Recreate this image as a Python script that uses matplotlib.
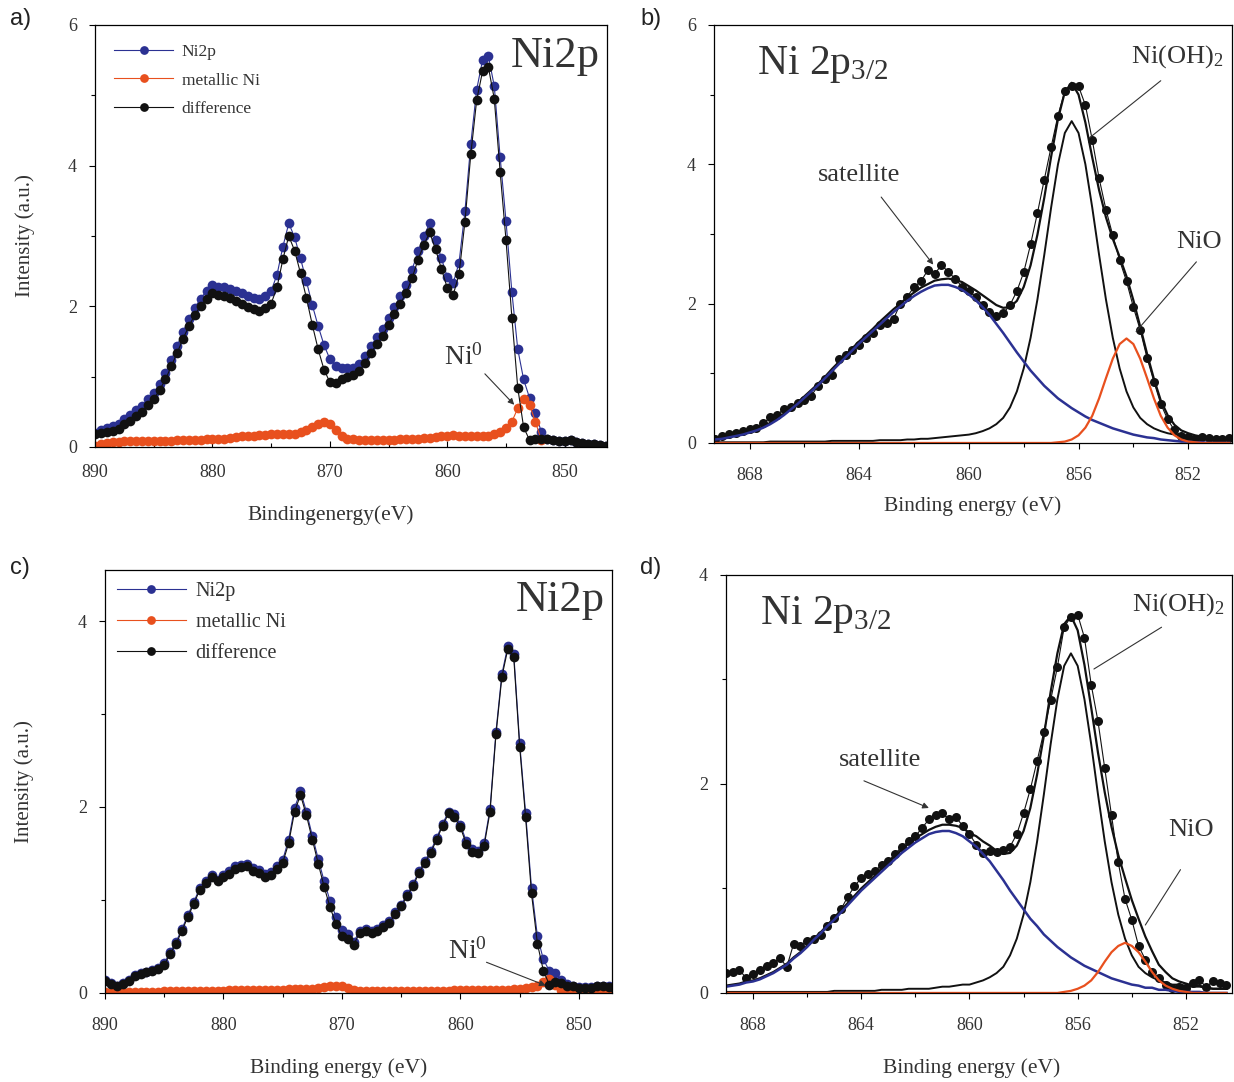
import numpy as np
import matplotlib.pyplot as plt
from matplotlib.ticker import MultipleLocator

plt.rcParams['font.family'] = ['Liberation Serif', 'DejaVu Serif']
plt.rcParams['mathtext.fontset'] = 'custom'
plt.rcParams['mathtext.rm'] = 'Liberation Serif'
plt.rcParams['mathtext.it'] = 'Liberation Serif:italic'

BLUE = '#2b3192'
ORANGE = '#e8501e'
BLACK = '#111111'
GREY = '#333333'

# ---------------- panel a: Ni2p survey, sample 1 (0.5 eV steps, 890 -> 846)
be_a = np.linspace(890.0, 846.0, 89)
ni2p_a = [0.20, 0.24, 0.27, 0.30, 0.33, 0.40, 0.45, 0.52, 0.58, 0.68,
          0.77, 0.90, 1.05, 1.24, 1.44, 1.64, 1.82, 1.98, 2.11, 2.22,
          2.30, 2.28, 2.27, 2.25, 2.22, 2.19, 2.15, 2.12, 2.10, 2.14,
          2.22, 2.45, 2.85, 3.18, 2.98, 2.68, 2.36, 2.02, 1.72, 1.45,
          1.25, 1.15, 1.12, 1.12, 1.13, 1.18, 1.30, 1.44, 1.56, 1.68,
          1.84, 1.99, 2.15, 2.30, 2.52, 2.78, 3.00, 3.18, 2.95, 2.68,
          2.42, 2.33, 2.62, 3.35, 4.31, 5.08, 5.50, 5.56, 5.13, 4.12,
          3.21, 2.20, 1.39, 0.96, 0.70, 0.48, 0.22, 0.12, 0.10, 0.09,
          0.08, 0.10, 0.07, 0.05, 0.04, 0.04, 0.03, 0.02, 0.02]
nan = np.nan
metal_a = [0.01, 0.04, 0.06, 0.07, 0.07, 0.08, 0.08, 0.08, 0.08, 0.08,
           0.09, 0.09, 0.09, 0.09, 0.10, 0.10, 0.10, 0.10, 0.10, 0.11,
           0.11, 0.12, 0.12, 0.13, 0.14, 0.15, 0.16, 0.16, 0.17, 0.17,
           0.18, 0.18, 0.18, 0.18, 0.19, 0.21, 0.24, 0.28, 0.33, 0.35,
           0.33, 0.24, 0.16, 0.12, 0.11, 0.10, 0.10, 0.10, 0.10, 0.10,
           0.10, 0.10, 0.11, 0.11, 0.12, 0.12, 0.13, 0.13, 0.14, 0.15,
           0.16, 0.17, 0.16, 0.15, 0.15, 0.15, 0.16, 0.16, 0.18, 0.21,
           0.27, 0.36, 0.55, 0.68, 0.60, 0.36, 0.10, nan, nan, nan,
           nan, nan, nan, nan, nan, nan, nan, nan, nan]

# ---------------- panel c: Ni2p survey, sample 2 (0.5 eV steps, 890 -> 847)
be_c = np.linspace(890.0, 847.0, 87)
ni2p_c = [0.14, 0.11, 0.08, 0.11, 0.14, 0.19, 0.21, 0.23, 0.25, 0.27,
          0.32, 0.44, 0.55, 0.69, 0.84, 0.98, 1.13, 1.20, 1.27, 1.22,
          1.27, 1.31, 1.36, 1.38, 1.39, 1.34, 1.32, 1.28, 1.30, 1.36,
          1.43, 1.65, 1.99, 2.17, 1.95, 1.69, 1.44, 1.20, 0.99, 0.82,
          0.68, 0.63, 0.55, 0.67, 0.69, 0.67, 0.69, 0.73, 0.77, 0.87,
          0.95, 1.06, 1.17, 1.31, 1.42, 1.53, 1.67, 1.82, 1.95, 1.92,
          1.81, 1.63, 1.55, 1.53, 1.61, 1.98, 2.81, 3.43, 3.73, 3.65,
          2.69, 1.94, 1.13, 0.61, 0.36, 0.24, 0.21, 0.14, 0.10, 0.08,
          0.06, 0.06, 0.06, 0.08, 0.08, 0.07, 0.06]
metal_c = [0.01, 0.01, 0.01, 0.01, 0.01, 0.01, 0.01, 0.01, 0.01, 0.01,
           0.02, 0.02, 0.02, 0.02, 0.02, 0.02, 0.02, 0.02, 0.02, 0.02,
           0.02, 0.03, 0.03, 0.03, 0.03, 0.03, 0.03, 0.03, 0.03, 0.03,
           0.03, 0.04, 0.04, 0.04, 0.04, 0.04, 0.05, 0.06, 0.07, 0.08,
           0.07, 0.05, 0.03, 0.02, 0.02, 0.02, 0.02, 0.02, 0.02, 0.02,
           0.02, 0.02, 0.02, 0.02, 0.02, 0.02, 0.02, 0.02, 0.02, 0.03,
           0.03, 0.03, 0.03, 0.03, 0.03, 0.03, 0.03, 0.03, 0.03, 0.04,
           0.04, 0.05, 0.06, 0.08, 0.12, 0.15, 0.09, 0.03, 0.02, 0.01,
           0.01, 0.01, 0.01, 0.01, 0.01, 0.01, 0.01]

# ---------------- panels b, d: Ni 2p3/2 fits (0.25 eV steps, 869.25 -> 850.5)
be_fit = np.linspace(869.25, 850.5, 76)
data_b = [0.06, 0.10, 0.13, 0.15, 0.17, 0.20, 0.22, 0.28, 0.37, 0.40,
          0.49, 0.52, 0.57, 0.62, 0.68, 0.82, 0.92, 0.98, 1.20, 1.26,
          1.34, 1.40, 1.50, 1.58, 1.70, 1.72, 1.78, 2.00, 2.10, 2.24,
          2.32, 2.48, 2.42, 2.56, 2.45, 2.36, 2.24, 2.18, 2.10, 1.98,
          1.88, 1.82, 1.86, 1.98, 2.18, 2.45, 2.85, 3.30, 3.78, 4.25,
          4.70, 5.05, 5.12, 5.12, 4.85, 4.35, 3.80, 3.35, 2.98, 2.62,
          2.32, 1.95, 1.62, 1.22, 0.88, 0.56, 0.34, 0.18, 0.10, 0.08,
          0.06, 0.09, 0.07, 0.05, 0.06, 0.07]
sat_b = [0.05, 0.06, 0.08, 0.10, 0.12, 0.15, 0.18, 0.22, 0.27, 0.33,
         0.40, 0.48, 0.56, 0.65, 0.74, 0.83, 0.93, 1.03, 1.13, 1.23,
         1.33, 1.43, 1.52, 1.61, 1.70, 1.79, 1.88, 1.96, 2.04, 2.11,
         2.17, 2.22, 2.26, 2.27, 2.27, 2.24, 2.20, 2.13, 2.05, 1.95,
         1.84, 1.71, 1.58, 1.44, 1.30, 1.17, 1.04, 0.93, 0.82, 0.73,
         0.64, 0.57, 0.50, 0.44, 0.38, 0.33, 0.29, 0.25, 0.21, 0.18,
         0.15, 0.12, 0.10, 0.08, 0.07, 0.05, 0.04, 0.03, 0.02, 0.02,
         0.01, 0.01, 0.00, 0.00, 0.00, 0.00]
nioh_b = [0.01, 0.01, 0.01, 0.01, 0.01, 0.01, 0.01, 0.01, 0.02, 0.02,
          0.02, 0.02, 0.02, 0.02, 0.02, 0.02, 0.02, 0.03, 0.03, 0.03,
          0.03, 0.03, 0.03, 0.03, 0.04, 0.04, 0.04, 0.04, 0.05, 0.05,
          0.06, 0.06, 0.07, 0.08, 0.09, 0.10, 0.11, 0.12, 0.14, 0.17,
          0.21, 0.27, 0.36, 0.51, 0.74, 1.07, 1.51, 2.06, 2.70, 3.38,
          4.00, 4.45, 4.62, 4.45, 4.00, 3.38, 2.70, 2.06, 1.51, 1.07,
          0.74, 0.51, 0.36, 0.27, 0.21, 0.17, 0.14, 0.12, 0.11, 0.10,
          0.09, 0.08, 0.07, 0.06, 0.06, 0.05]
nio_b = ([0.00] * 50
         + [0.01, 0.02, 0.05, 0.11, 0.22, 0.39, 0.64, 0.93, 1.21, 1.42, 1.50,
            1.42, 1.21, 0.93, 0.64, 0.39, 0.22, 0.11, 0.05, 0.02, 0.01]
         + [0.00] * 5)

data_d = [0.06, 0.19, 0.20, 0.22, 0.14, 0.18, 0.22, 0.26, 0.29, 0.33,
          0.25, 0.47, 0.45, 0.50, 0.52, 0.55, 0.64, 0.72, 0.80, 0.92,
          1.02, 1.10, 1.14, 1.17, 1.22, 1.26, 1.33, 1.40, 1.45, 1.50,
          1.58, 1.66, 1.70, 1.72, 1.66, 1.68, 1.60, 1.52, 1.42, 1.34,
          1.36, 1.35, 1.37, 1.40, 1.52, 1.72, 1.95, 2.22, 2.50, 2.80,
          3.12, 3.50, 3.60, 3.62, 3.40, 2.95, 2.60, 2.15, 1.70, 1.25,
          0.90, 0.70, 0.45, 0.32, 0.20, 0.14, 0.08, 0.05, 0.06, 0.05,
          0.10, 0.12, 0.06, 0.11, 0.10, 0.08]
sat_d = [0.05, 0.06, 0.07, 0.08, 0.10, 0.11, 0.13, 0.16, 0.19, 0.23,
         0.27, 0.33, 0.38, 0.44, 0.51, 0.57, 0.64, 0.70, 0.77, 0.84,
         0.91, 0.98, 1.04, 1.10, 1.16, 1.22, 1.28, 1.34, 1.39, 1.44,
         1.48, 1.52, 1.54, 1.55, 1.55, 1.53, 1.50, 1.45, 1.40, 1.33,
         1.26, 1.17, 1.08, 0.98, 0.89, 0.80, 0.71, 0.64, 0.56, 0.50,
         0.44, 0.39, 0.34, 0.30, 0.26, 0.23, 0.20, 0.17, 0.14, 0.12,
         0.10, 0.08, 0.07, 0.05, 0.05, 0.03, 0.03, 0.02, 0.01, 0.01,
         0.01, 0.01, 0.00, 0.00, 0.00, 0.00]
nioh_d = [0.01, 0.01, 0.01, 0.01, 0.01, 0.01, 0.01, 0.01, 0.01, 0.01,
          0.01, 0.01, 0.01, 0.01, 0.01, 0.01, 0.01, 0.02, 0.02, 0.02,
          0.02, 0.02, 0.02, 0.02, 0.03, 0.03, 0.03, 0.03, 0.04, 0.04,
          0.04, 0.04, 0.05, 0.06, 0.06, 0.07, 0.08, 0.08, 0.10, 0.12,
          0.15, 0.19, 0.25, 0.36, 0.52, 0.75, 1.06, 1.45, 1.90, 2.38,
          2.81, 3.13, 3.25, 3.13, 2.81, 2.38, 1.90, 1.45, 1.06, 0.75,
          0.52, 0.36, 0.25, 0.19, 0.15, 0.12, 0.10, 0.08, 0.08, 0.07,
          0.06, 0.06, 0.05, 0.04, 0.04, 0.04]
nio_d = ([0.00] * 51
         + [0.01, 0.02, 0.04, 0.07, 0.12, 0.20, 0.30, 0.39, 0.45, 0.48,
            0.45, 0.39, 0.30, 0.20, 0.12, 0.07, 0.04, 0.02, 0.01]
         + [0.00] * 6)

for series in (data_b, sat_b, nioh_b, nio_b, data_d, sat_d, nioh_d, nio_d):
    assert len(series) == len(be_fit)
assert len(ni2p_a) == len(metal_a) == len(be_a)
assert len(ni2p_c) == len(metal_c) == len(be_c)

xlabels = ['Bindingenergy(eV)', 'Binding energy (eV)',
           'Binding energy (eV)', 'Binding energy (eV)']
legend_labels = ['Ni2p', 'metallic Ni', 'difference']

fig = plt.figure(figsize=(12.34, 10.82), dpi=100)
ax_a = fig.add_axes([0.0770, 0.5869, 0.4149, 0.3900])
ax_b = fig.add_axes([0.5786, 0.5906, 0.4198, 0.3863])
ax_c = fig.add_axes([0.0851, 0.0823, 0.4109, 0.3910])
ax_d = fig.add_axes([0.5883, 0.0823, 0.4100, 0.3863])


def style(ax, xlim, ylim, xmaj, xmin, ymaj, xlab, labpad, xdir='out',
          xpad=13, labx=0.5):
    ax.set_xlim(*xlim)
    ax.set_ylim(*ylim)
    ax.xaxis.set_major_locator(MultipleLocator(xmaj))
    ax.xaxis.set_minor_locator(MultipleLocator(xmin))
    ax.yaxis.set_major_locator(MultipleLocator(ymaj))
    ax.yaxis.set_minor_locator(MultipleLocator(ymaj / 2))
    ax.tick_params(axis='x', which='both', direction=xdir, labelsize=13,
                   labelcolor=GREY, pad=xpad)
    ax.tick_params(axis='y', which='both', direction='out', labelsize=13,
                   labelcolor=GREY, pad=9)
    ax.tick_params(which='major', length=4, width=0.8)
    ax.tick_params(which='minor', length=3, width=0.8)
    ax.set_xlabel(xlab, fontsize=15.5, color=GREY, labelpad=labpad, x=labx)
    for s in ax.spines.values():
        s.set_linewidth(0.9)


def survey(ax, be, ni2p, metal, legsize, legpad, legspace):
    ni2p = np.array(ni2p)
    metal = np.array(metal)
    diff = ni2p - np.nan_to_num(metal)
    kw = dict(marker='o', ms=7, lw=0.8, mew=0)
    ax.plot(be, ni2p, color=BLUE, label=legend_labels[0], **kw)
    ax.plot(be, metal, color=ORANGE, label=legend_labels[1], **kw)
    ax.plot(be, diff, color=BLACK, label=legend_labels[2], **kw)
    leg = ax.legend(loc='upper left', frameon=False, fontsize=legsize,
                    handlelength=3.4, handletextpad=0.5, markerscale=0.9,
                    borderaxespad=legpad, labelspacing=legspace)
    for t in leg.get_texts():
        t.set_color(GREY)
    ax.text(0.985, 0.975, 'Ni2p', transform=ax.transAxes, ha='right',
            va='top', fontsize=32, color=GREY)
    ax.set_ylabel('Intensity (a.u.)', fontsize=15, color=GREY)


def fit(ax, be, data, sat, nioh, nio, tx):
    sat, nioh, nio = np.array(sat), np.array(nioh), np.array(nio)
    env = sat + nioh + nio
    ax.plot(be, data, color=BLACK, marker='o', ms=6.5, lw=0.8, mew=0)
    ax.plot(be, env, color=BLACK, lw=1.6)
    ax.plot(be, nioh, color=BLACK, lw=1.4)
    ax.plot(be, sat, color=BLUE, lw=1.8)
    ax.plot(be, nio, color=ORANGE, lw=1.6)
    ax.text(tx, 0.955, 'Ni 2p$_{3/2}$', transform=ax.transAxes, ha='left',
            va='top', fontsize=30, color=GREY)


def pointer(ax, label, txt, start, end, head=True, size=19):
    ax.text(txt[0], txt[1], label, ha='center', va='center', fontsize=size,
            color=GREY)
    style_ = '-|>' if head else '-'
    ax.annotate('', xy=end, xytext=start,
                arrowprops=dict(arrowstyle=style_, color='#333333', lw=0.8,
                                mutation_scale=9, shrinkA=0, shrinkB=0))


survey(ax_a, be_a, ni2p_a, metal_a, 12.5, 0.7, 0.7)
style(ax_a, (890, 846.4), (0, 6), 10, 5, 2, xlabels[0], 18, xdir='in',
      xpad=12, labx=0.46)
pointer(ax_a, 'Ni$^0$', (858.6, 1.27), (856.8, 1.04), (854.3, 0.6), size=20)

fit(ax_b, be_fit, data_b, sat_b, nioh_b, nio_b, 0.083)
style(ax_b, (869.3, 850.4), (0, 6), 4, 2, 2, xlabels[1], 9)
pointer(ax_b, 'satellite', (864.0, 3.85), (863.2, 3.53), (861.3, 2.56))
pointer(ax_b, 'Ni(OH)$_2$', (852.4, 5.55), (853.0, 5.2), (855.6, 4.38), head=False)
pointer(ax_b, 'NiO', (851.6, 2.88), (851.7, 2.6), (853.9, 1.6), head=False)

survey(ax_c, be_c, ni2p_c, metal_c, 14.5, 0.2, 0.6)
style(ax_c, (890, 847.2), (0, 4.55), 10, 5, 2, xlabels[2], 18, labx=0.46)
pointer(ax_c, 'Ni$^0$', (859.4, 0.45), (857.8, 0.33), (852.8, 0.08), size=20)

fit(ax_d, be_fit, data_d, sat_d, nioh_d, nio_d, 0.067)
style(ax_d, (869.0, 850.3), (0, 4), 4, 2, 2, xlabels[3], 18, labx=0.485)
pointer(ax_d, 'satellite', (863.3, 2.23), (863.9, 2.03), (861.5, 1.77))
pointer(ax_d, 'Ni(OH)$_2$', (852.3, 3.72), (852.9, 3.5), (855.4, 3.1), head=False)
pointer(ax_d, 'NiO', (851.8, 1.56), (852.2, 1.18), (853.5, 0.65), head=False)

ax_a.yaxis.labelpad = 24
ax_c.yaxis.labelpad = 32

for lab, x, y in [('a)', 0.008, 0.993), ('b)', 0.519, 0.993),
                  ('c)', 0.008, 0.485), ('d)', 0.519, 0.485)]:
    fig.text(x, y, lab, ha='left', va='top', fontsize=17,
             family=['Liberation Sans', 'DejaVu Sans'], color='#222222')

fig.savefig('out.png', dpi=100)
